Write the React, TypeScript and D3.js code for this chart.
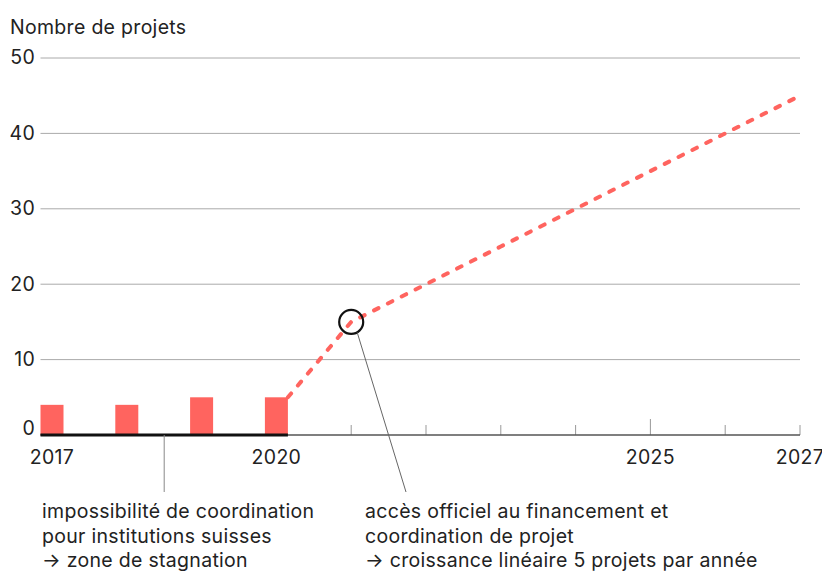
import React from 'react';
import * as d3 from 'd3';

const barYears = [2017, 2018, 2019, 2020];
const barValues = [4, 4, 5, 5];

const lineYears = [2020, 2021, 2022, 2023, 2024, 2025, 2026, 2027];
const lineValues = [5, 15, 20, 25, 30, 35, 40, 45];

const yTicks = [0, 10, 20, 30, 40, 50];
const xTickYears = [2021, 2022, 2023, 2024, 2025, 2026, 2027];
const xLabelYears = [2017, 2020, 2025, 2027];

const markerYear = 2021;
const markerValue = 15;
const stagnationYear = 2018.5;

const noteLeft = [
  'impossibilité de coordination',
  'pour institutions suisses',
  '→ zone de stagnation',
];
const noteRight = [
  'accès officiel au financement et',
  'coordination de projet',
  '→ croissance linéaire 5 projets par année',
];

const W = 822;
const H = 572;
const RED = '#ff645f';
const FONT = 'Inter, "Noto Sans", sans-serif';
const FS = 19.5;
const LS = 0.3;

export default function App() {
  const x = d3.scaleLinear().domain([2017, 2027]).range([52, 800]);
  const y = d3.scaleLinear().domain([0, 50]).range([435, 58]);
  const barW = 23;

  const linePts = lineYears.map((yr, i) => ({ yr, v: lineValues[i] }));
  const line = d3
    .line<{ yr: number; v: number }>()
    .x((d, i) => (i === 0 ? x(d.yr) + barW / 2 : x(d.yr)))
    .y(d => y(d.v));

  const gridLeft = x(2017) - barW / 2;
  const mx = x(markerYear);
  const my = y(markerValue);

  return (
    <svg
      width={W}
      height={H}
      style={{ position: 'absolute', left: 0, top: 0, background: '#fff' }}
      fontFamily={FONT}
      letterSpacing={LS}
    >
      <text x={10} y={34} fontSize={FS} fill="#222">
        Nombre de projets
      </text>

      {yTicks.map(t => (
        <g key={t}>
          {t > 0 && (
            <line x1={gridLeft} x2={800} y1={y(t)} y2={y(t)} stroke="#aaa" strokeWidth={1} />
          )}
          <text
            x={35}
            y={y(t) + (t === 0 ? -5 : 1)}
            textAnchor="end"
            dominantBaseline="middle"
            fontSize={FS}
            fill="#222"
          >
            {t}
          </text>
        </g>
      ))}

      {barYears.map((yr, i) => (
        <rect
          key={yr}
          x={x(yr) - barW / 2}
          width={barW}
          y={y(barValues[i])}
          height={y(0) - y(barValues[i])}
          fill={RED}
        />
      ))}

      {xTickYears.map(yr => (
        <line
          key={yr}
          x1={x(yr)}
          x2={x(yr)}
          y1={y(0)}
          y2={y(0) - (yr === 2025 ? 16 : 10)}
          stroke="#999"
          strokeWidth={1}
        />
      ))}

      <line x1={gridLeft} x2={800} y1={y(0)} y2={y(0)} stroke="#555" strokeWidth={1.5} />
      <line
        x1={gridLeft}
        x2={x(2020) + barW / 2}
        y1={y(0)}
        y2={y(0)}
        stroke="#111"
        strokeWidth={3}
      />

      <path
        d={line(linePts) ?? ''}
        fill="none"
        stroke={RED}
        strokeWidth={4}
        strokeDasharray="5,10.5"
        strokeLinecap="round"
      />

      <circle cx={mx} cy={my} r={12} fill="none" stroke="#111" strokeWidth={2.2} />

      {xLabelYears.map(yr => (
        <text key={yr} x={x(yr)} y={464} textAnchor="middle" fontSize={FS} fill="#222">
          {yr}
        </text>
      ))}

      <line
        x1={x(stagnationYear)}
        x2={x(stagnationYear)}
        y1={y(0)}
        y2={492}
        stroke="#888"
        strokeWidth={1}
      />
      <line x1={mx + 6} y1={my + 10.5} x2={406} y2={492} stroke="#666" strokeWidth={1} />

      <text fontSize={FS} fill="#222">
        {noteLeft.map((s, i) => (
          <tspan key={i} x={42} y={518 + i * 24.5}>
            {s}
          </tspan>
        ))}
      </text>
      <text fontSize={FS} fill="#222">
        {noteRight.map((s, i) => (
          <tspan key={i} x={365} y={518 + i * 24.5}>
            {s}
          </tspan>
        ))}
      </text>
    </svg>
  );
}
